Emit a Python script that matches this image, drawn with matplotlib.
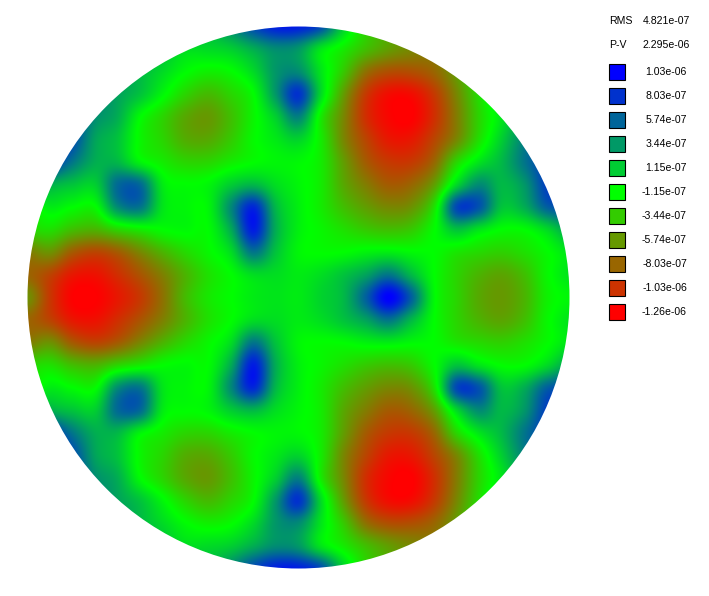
import numpy as np
import matplotlib
matplotlib.use("Agg")
import matplotlib.pyplot as plt
from matplotlib.colors import LinearSegmentedColormap, Normalize
from matplotlib.patches import Circle, Rectangle

# surface height on a coarse square grid (units of 1e-7)
surface_e7 = [
 [0,0,0,0,3,6,6,4,2,4,7,9,9,7,1,-3,-5,-7,-8,-7,-4,0,3,5,5],
 [3,3,3,3,3,3,2,0.5,0.5,1,2.5,4,3.5,0,-2,-4,-5.5,-6.5,-7,-6,-4,0,3,5,5],
 [4,4,4,4,3.5,2,0.5,-1,-1.8,-1.3,0.5,3.5,4,0,-3.5,-7.5,-9,-9,-8,-5.5,-2,0,3,5,5],
 [6,6,6,4.5,3,1.5,-0.8,-3,-4.2,-3,-1.2,3.5,8,0.5,-5.5,-10,-12,-12,-10,-6.5,-2.5,1,3,5,5],
 [8,8,7,4,2.5,-1,-3,-5,-5.7,-4,-1.6,1,4.5,-2,-6.5,-10.5,-12.3,-12.6,-10.5,-7,-3,0,3,5,6],
 [9,9,7,3,1.5,-1.5,-3,-4.8,-5,-3.5,-1.4,-0.2,0.8,-2,-6.5,-9.5,-11.5,-11.5,-9.5,-6.5,-2.5,1,4.5,7,7],
 [8,8,5,2.5,2,-0.7,-2,-3,-3,-2,-1.2,-0.8,-0.9,-2,-5.5,-8.5,-10,-10,-8,-3,0,2,5,7.5,8],
 [4,2.5,1.5,1,5.5,5.5,-0.3,-1.1,-0.8,1,2,0.3,-0.8,-2,-5,-7,-8.5,-8,-5.5,0.5,4,2,3.5,7.5,8],
 [-2,-0.3,-1.1,-1.3,4,5,0,-0.8,-0.8,4,8.5,2,-0.5,-2,-4,-5.5,-6.5,-6,-2.5,7,6.5,1.5,2.5,6,7],
 [-3,-2.5,-4,-4.5,-3,-2,-1.2,-0.9,-1.1,2.5,9,2.5,-0.5,-1.5,-2.5,-3.5,-4,-3.5,-1.3,1.5,0,-1.2,-1.1,0.5,3],
 [-7,-6,-8.5,-9.5,-8.5,-6.5,-4.5,-2.8,-1.5,0.3,5,1.5,-0.8,-1.2,-1.1,-0.6,-0.4,-0.9,-1.2,-2.2,-2.8,-3.2,-2.5,-1.3,0],
 [-8,-9.5,-11.5,-11.8,-10.5,-8.8,-6.8,-4.5,-2.5,-1.2,0.3,0.3,-0.3,0.3,1.5,3,5,2,-1.1,-3,-4.5,-5.2,-4,-1.5,0],
 [-6,-10,-12.5,-12.6,-11.5,-10,-7.5,-4.2,-2.2,-1.2,-0.3,0,-0.3,0.8,2,6,10.3,6,-0.8,-3,-5,-5.7,-4.5,-1.8,-0.8],
 [-8,-9.5,-11.5,-11.8,-10.5,-8.8,-6.8,-4.5,-2.5,-1.2,0.3,0.3,-0.3,0.3,1.5,3,5,2,-1.1,-3,-4.5,-5.2,-4,-1.5,0],
 [-7,-6,-8.5,-9.5,-8.5,-6.5,-4.5,-2.8,-1.5,0.3,5,1.5,-0.8,-1.2,-1.1,-0.6,-0.4,-0.9,-1.2,-2.2,-2.8,-3.2,-2.5,-1.3,0],
 [-3,-2.5,-4,-4.5,-3,-2,-1.2,-0.9,-1.1,2.5,9,2.5,-0.5,-1.5,-2.5,-3.5,-4,-3.5,-1.3,1.5,0,-1.2,-1.1,0.5,3],
 [-2,-0.3,-1.1,-1.3,4,5,0,-0.8,-0.8,4,8.5,2,-0.5,-2,-4,-5.5,-6.5,-6,-2.5,7,6.5,1.5,2.5,6,7],
 [4,2.5,1.5,1,5.5,5.5,-0.3,-1.1,-0.8,1,2,0.3,-0.8,-2,-5,-7,-8.5,-8,-5.5,0.5,4,2,3.5,7.5,8],
 [8,8,5,2.5,2,-0.7,-2,-3,-3,-2,-1.2,-0.8,-0.9,-2,-5.5,-8.5,-10,-10,-8,-3,0,2,5,7.5,8],
 [9,9,7,3,1.5,-1.5,-3,-4.8,-5,-3.5,-1.4,-0.2,0.8,-2,-6.5,-9.5,-11.5,-11.5,-9.5,-6.5,-2.5,1,4.5,7,7],
 [8,8,7,4,2.5,-1,-3,-5,-5.7,-4,-1.6,1,4.5,-2,-6.5,-10.5,-12.3,-12.6,-10.5,-7,-3,0,3,5,6],
 [6,6,6,4.5,3,1.5,-0.8,-3,-4.2,-3,-1.2,3.5,8,0.5,-5.5,-10,-12,-12,-10,-6.5,-2.5,1,3,5,5],
 [4,4,4,4,3.5,2,0.5,-1,-1.8,-1.3,0.5,3.5,4,0,-3.5,-7.5,-9,-9,-8,-5.5,-2,0,3,5,5],
 [3,3,3,3,3,3,2,0.5,0.5,1,2.5,4,3.5,0,-2,-4,-5.5,-6.5,-7,-6,-4,0,3,5,5],
 [0,0,0,0,3,6,6,4,2,4,7,9,9,7,1,-3,-5,-7,-8,-7,-4,0,3,5,5],
]

legend_values = [1.03e-06, 8.03e-07, 5.74e-07, 3.44e-07, 1.15e-07, -1.15e-07,
                 -3.44e-07, -5.74e-07, -8.03e-07, -1.03e-06, -1.26e-06]
legend_labels = ["1.03e-06", "8.03e-07", "5.74e-07", "3.44e-07", "1.15e-07", "-1.15e-07",
                 "-3.44e-07", "-5.74e-07", "-8.03e-07", "-1.03e-06", "-1.26e-06"]
stat_names = ["RMS", "P-V"]
stat_values = ["4.821e-07", "2.295e-06"]

W, H = 709, 596
cx, cy, R = 298.5, 297.5, 271.0

fig = plt.figure(figsize=(W / 100, H / 100), dpi=100, facecolor="white")
ax = fig.add_axes([0, 0, 1, 1])
ax.set_xlim(0, W)
ax.set_ylim(H, 0)
ax.axis("off")

cmap = LinearSegmentedColormap.from_list("rgb_surface", [(1, 0, 0), (0, 1, 0), (0, 0, 1)], N=512)
norm = Normalize(-12.6, 10.3)

data = np.array(surface_e7, dtype=float)
half = R * data.shape[0] / (data.shape[0] - 1)
im = ax.imshow(data, cmap=cmap, norm=norm, origin="upper",
               extent=(cx - half, cx + half, cy + half, cy - half),
               interpolation="catrom", interpolation_stage="data", aspect="auto", zorder=1)
im.set_clip_path(Circle((cx, cy), R, transform=ax.transData))
ax.set_xlim(0, W)
ax.set_ylim(H, 0)

font = dict(family="Liberation Sans", fontsize=7.6, color="black", va="center")
for i, (name, val) in enumerate(zip(stat_names, stat_values)):
    y = 21.5 + 24 * i
    ax.text(609, y, name, ha="left", **font)
    ax.text(690, y, val, ha="right", **font)
for i, (v, lab) in enumerate(zip(legend_values, legend_labels)):
    y = 72 + 24 * i
    ax.add_patch(Rectangle((609, y - 8), 16, 16, facecolor=cmap(norm(v * 1e7)),
                           edgecolor="black", linewidth=0.8, zorder=2))
    ax.text(687, y, lab, ha="right", **font)

fig.savefig("out.png", dpi=100, facecolor="white")
